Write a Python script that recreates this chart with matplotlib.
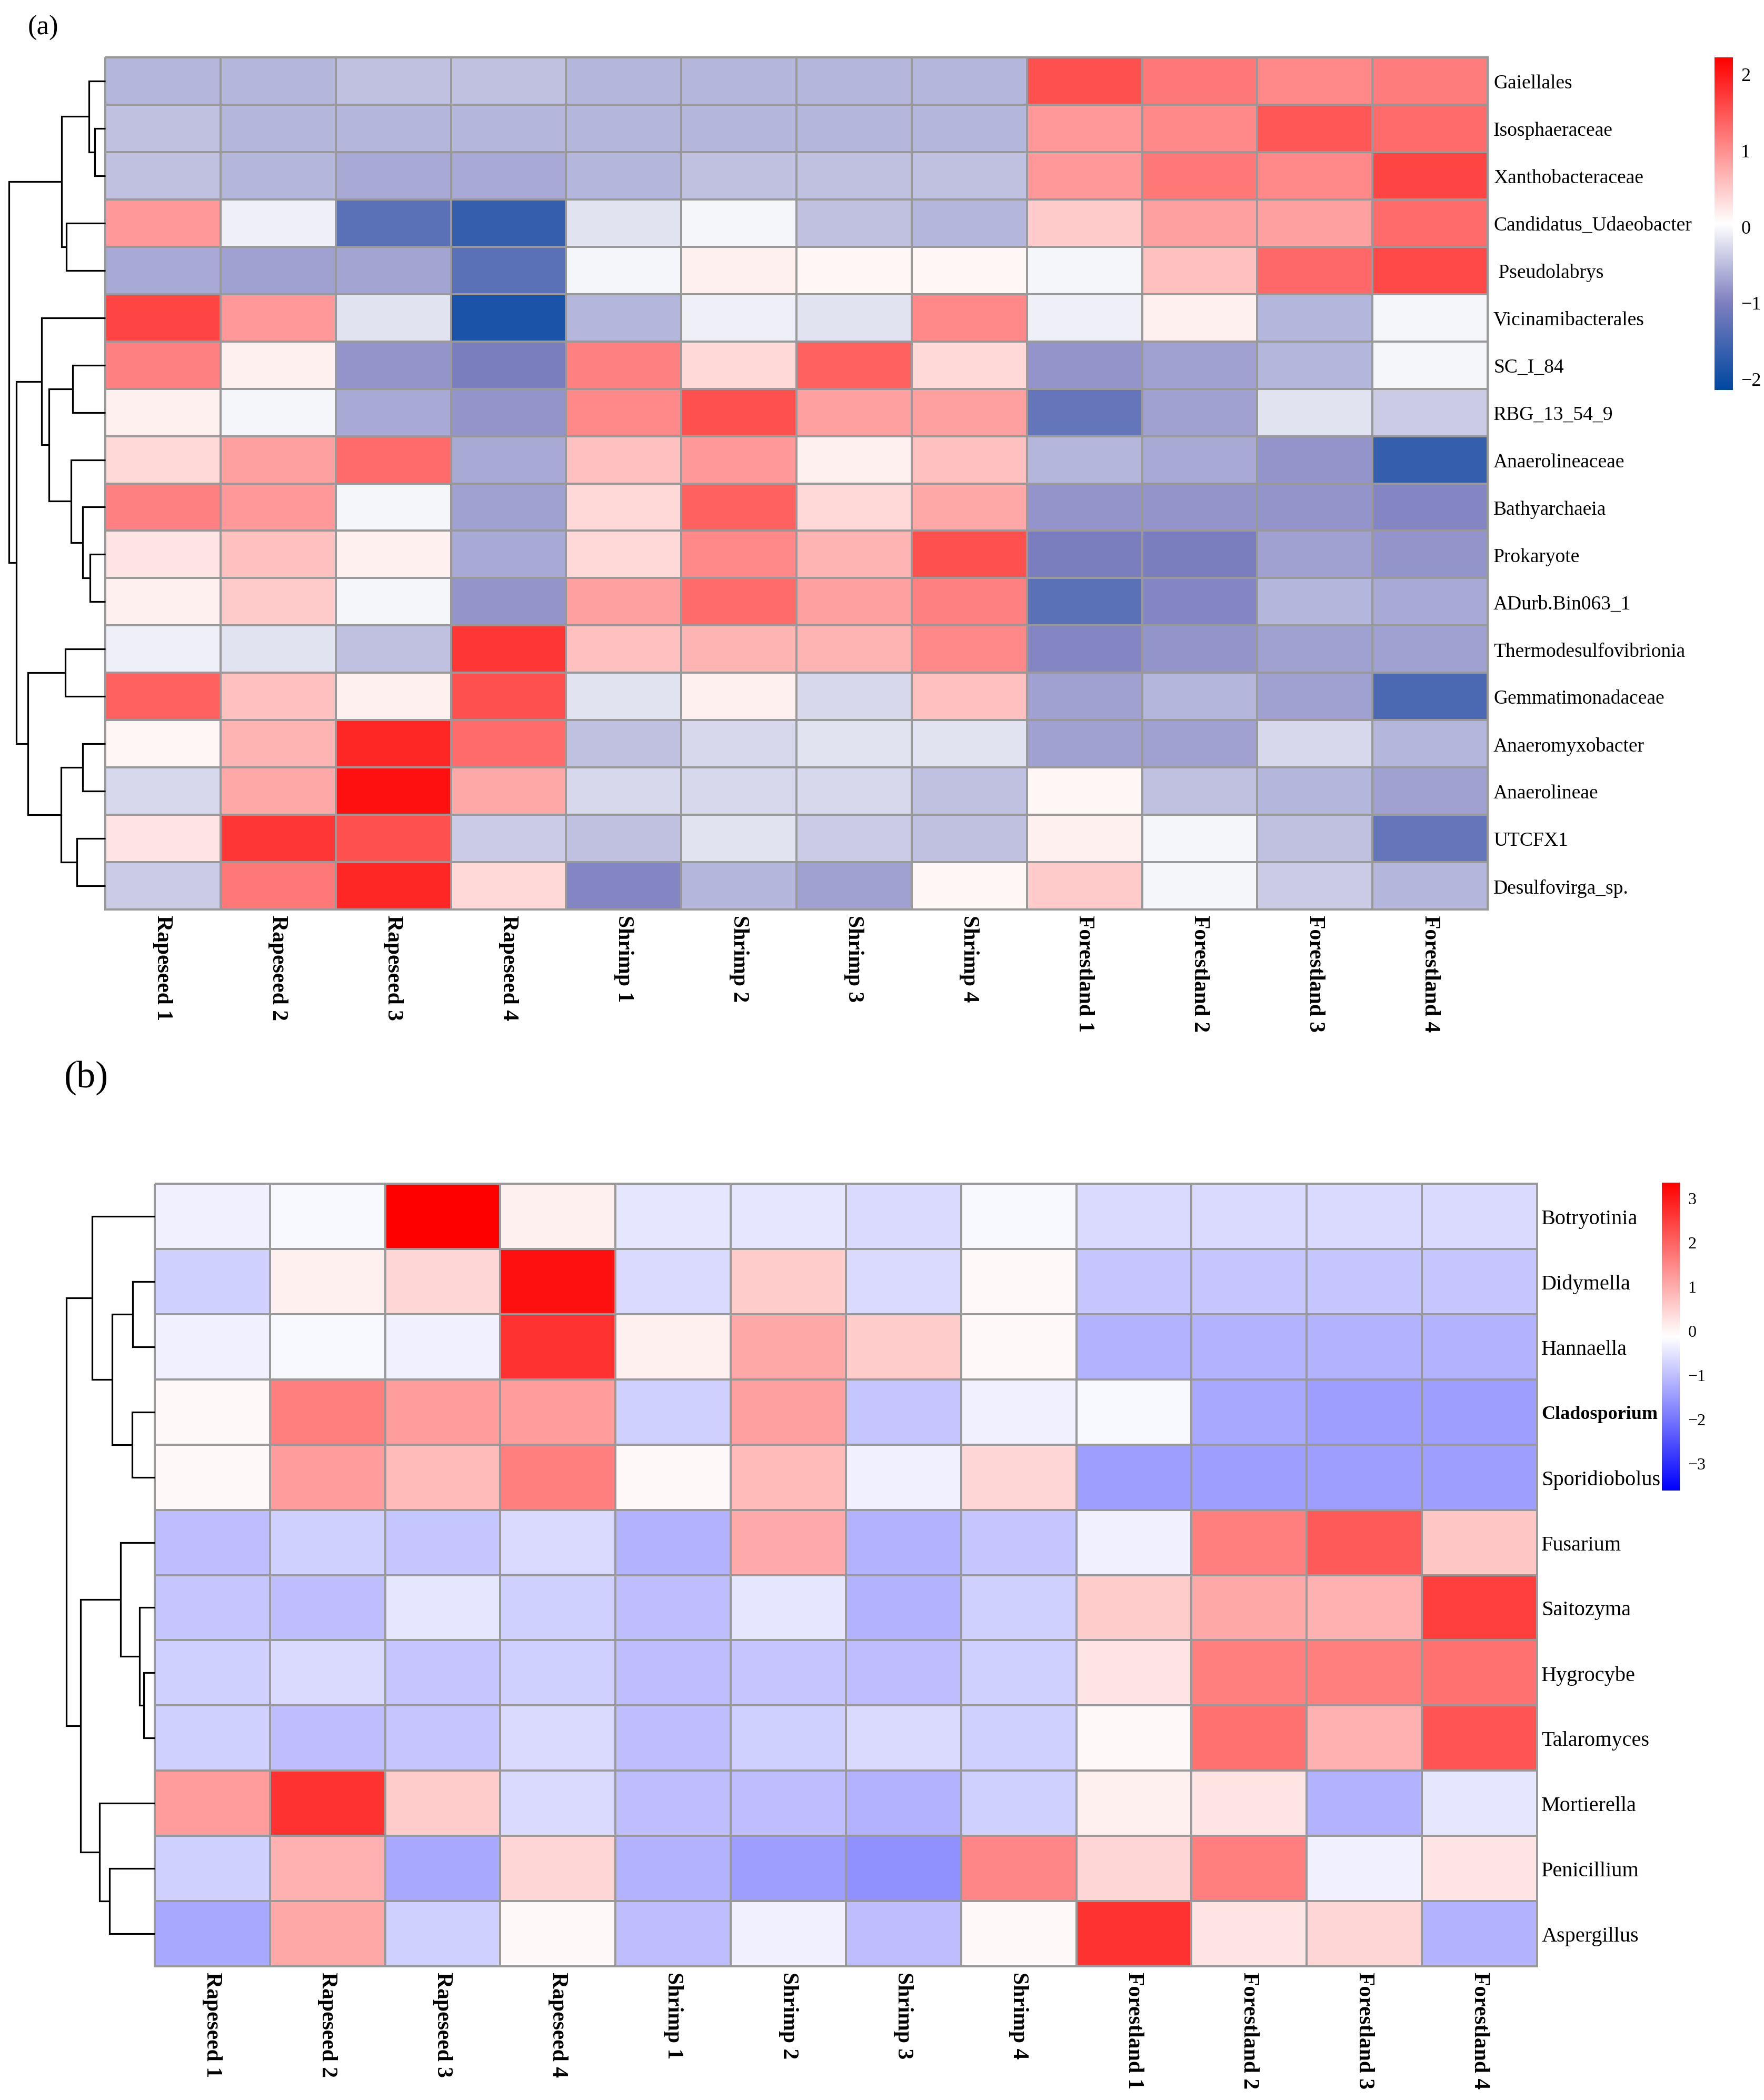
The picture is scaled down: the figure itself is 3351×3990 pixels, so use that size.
import numpy as np
import matplotlib
matplotlib.use("Agg")
import matplotlib.pyplot as plt
from matplotlib.colors import LinearSegmentedColormap, Normalize

plt.rcParams['font.family'] = ['Liberation Serif', 'DejaVu Serif']

# ---------------- data ----------------
sample_labels = ["Rapeseed 1", "Rapeseed 2", "Rapeseed 3", "Rapeseed 4",
                 "Shrimp 1", "Shrimp 2", "Shrimp 3", "Shrimp 4",
                 "Forestland 1", "Forestland 2", "Forestland 3", "Forestland 4"]

bact_rows = ["Gaiellales", "Isosphaeraceae", "Xanthobacteraceae", "Candidatus_Udaeobacter",
             " Pseudolabrys", "Vicinamibacterales", "SC_I_84", "RBG_13_54_9",
             "Anaerolineaceae", "Bathyarchaeia", "Prokaryote", "ADurb.Bin063_1",
             "Thermodesulfovibrionia", "Gemmatimonadaceae", "Anaeromyxobacter",
             "Anaerolineae", "UTCFX1", "Desulfovirga_sp."]

bact_values = [
    [-0.56, -0.56, -0.47, -0.47, -0.56, -0.56, -0.56, -0.56, 1.53, 1.19, 1.05, 1.15],
    [-0.47, -0.56, -0.56, -0.56, -0.56, -0.56, -0.56, -0.56, 0.92, 1.05, 1.47, 1.30],
    [-0.47, -0.56, -0.66, -0.66, -0.56, -0.47, -0.47, -0.47, 0.92, 1.19, 1.05, 1.63],
    [0.92, -0.10, -1.32, -1.66, -0.20, -0.05, -0.47, -0.56, 0.49, 0.85, 0.85, 1.30],
    [-0.66, -0.73, -0.71, -1.32, -0.05, 0.17, 0.12, 0.12, -0.05, 0.58, 1.33, 1.60],
    [1.63, 0.92, -0.20, -1.91, -0.56, -0.10, -0.20, 1.05, -0.10, 0.17, -0.56, -0.05],
    [1.12, 0.17, -0.82, -1.04, 1.12, 0.37, 1.40, 0.37, -0.82, -0.73, -0.56, -0.05],
    [0.17, -0.05, -0.66, -0.82, 1.05, 1.53, 0.85, 0.85, -1.22, -0.73, -0.20, -0.38],
    [0.37, 0.85, 1.30, -0.66, 0.58, 0.92, 0.17, 0.58, -0.56, -0.66, -0.82, -1.66],
    [1.12, 0.92, -0.05, -0.73, 0.37, 1.40, 0.37, 0.78, -0.82, -0.82, -0.82, -0.94],
    [0.26, 0.58, 0.17, -0.66, 0.37, 1.05, 0.68, 1.53, -1.04, -1.04, -0.73, -0.82],
    [0.17, 0.49, -0.05, -0.82, 0.85, 1.30, 0.85, 1.12, -1.32, -0.94, -0.56, -0.66],
    [-0.10, -0.20, -0.47, 1.75, 0.58, 0.68, 0.68, 1.05, -0.94, -0.82, -0.73, -0.73],
    [1.40, 0.58, 0.17, 1.53, -0.20, 0.17, -0.28, 0.58, -0.73, -0.56, -0.73, -1.46],
    [0.12, 0.68, 1.88, 1.30, -0.47, -0.28, -0.20, -0.20, -0.73, -0.73, -0.28, -0.56],
    [-0.28, 0.78, 2.08, 0.78, -0.28, -0.28, -0.28, -0.47, 0.12, -0.47, -0.56, -0.73],
    [0.26, 1.75, 1.53, -0.38, -0.47, -0.20, -0.38, -0.47, 0.17, -0.05, -0.47, -1.22],
    [-0.38, 1.19, 1.88, 0.37, -0.94, -0.56, -0.73, 0.12, 0.49, -0.05, -0.38, -0.56],
]

# row dendrogram (a): (child1, child2, height); leaves 0..17, merged clusters 18..
bact_merges = [(1, 2, 20), (0, 18, 31), (3, 4, 74), (19, 20, 83),
               (10, 11, 29), (9, 22, 43), (8, 23, 65), (6, 7, 62),
               (25, 24, 107), (5, 26, 121), (12, 13, 76), (14, 15, 43),
               (16, 17, 54), (29, 30, 84), (28, 31, 147), (27, 32, 169),
               (21, 33, 183)]

fungi_rows = ["Botryotinia", "Didymella", "Hannaella", "Cladosporium", "Sporidiobolus",
              "Fusarium", "Saitozyma", "Hygrocybe", "Talaromyces", "Mortierella",
              "Penicillium", "Aspergillus"]

fungi_values = [
    [-0.33, -0.22, 3.35, 0.08, -0.48, -0.48, -0.63, -0.22, -0.63, -0.63, -0.63, -0.63],
    [-0.77, 0.08, 0.41, 3.13, -0.63, 0.57, -0.63, -0.03, -0.92, -0.92, -0.92, -0.92],
    [-0.33, -0.22, -0.33, 2.65, 0.08, 1.06, 0.57, -0.03, -1.17, -1.17, -1.17, -1.17],
    [-0.03, 1.61, 1.22, 1.22, -0.77, 1.17, -0.92, -0.33, -0.22, -1.31, -1.45, -1.45],
    [-0.03, 1.22, 0.80, 1.61, -0.03, 0.80, -0.33, 0.41, -1.45, -1.45, -1.45, -1.45],
    [-1.02, -0.77, -0.92, -0.63, -1.17, 1.03, -1.17, -0.92, -0.33, 1.61, 2.10, 0.65],
    [-0.92, -1.02, -0.48, -0.77, -1.02, -0.48, -1.17, -0.77, 0.57, 1.06, 0.95, 2.48],
    [-0.77, -0.63, -0.92, -0.77, -1.02, -0.92, -1.02, -0.77, 0.23, 1.61, 1.61, 1.82],
    [-0.77, -1.02, -0.92, -0.63, -1.02, -0.77, -0.63, -0.77, -0.03, 1.82, 0.95, 2.20],
    [1.22, 2.65, 0.57, -0.63, -1.02, -1.02, -1.17, -0.77, 0.08, 0.23, -1.17, -0.48],
    [-0.77, 0.95, -1.31, 0.41, -1.17, -1.45, -1.64, 1.50, 0.41, 1.61, -0.33, 0.23],
    [-1.31, 1.06, -0.77, -0.03, -1.02, -0.33, -1.02, -0.03, 2.65, 0.23, 0.41, -1.17],
]

fungi_merges = [(1, 2, 42), (3, 4, 43), (12, 13, 81), (0, 14, 119),
                (7, 8, 21), (6, 16, 29), (5, 17, 65), (10, 11, 86),
                (9, 19, 105), (18, 20, 141), (15, 21, 168)]

bact_ticks = [-2, -1, 0, 1, 2]
fungi_ticks = [-3, -2, -1, 0, 1, 2, 3]

# ---------------- styling ----------------
W, H = 3351, 3991
fig = plt.figure(figsize=(W / 100, H / 100), dpi=100)
fig.patch.set_facecolor('white')


def ax_px(x0, y0, x1, y1):
    return fig.add_axes([x0 / W, 1 - y1 / H, (x1 - x0) / W, (y1 - y0) / H])


vmin_a, vmax_a = -2.15, 2.22
def _p(v):
    return (v - vmin_a) / (vmax_a - vmin_a)
cmap_a = LinearSegmentedColormap.from_list(
    "a", [(0.0, "#0047A0"), (_p(-1.0), "#7E80C0"), (0.5, "#FFFFFF"), (1.0, "#FF0000")])
norm_a = Normalize(vmin_a, vmax_a)

cmap_b = LinearSegmentedColormap.from_list("b", ["#0000FF", "#FFFFFF", "#FF0000"])
norm_b = Normalize(-3.62, 3.35)

GRID = "#999999"


def draw_heat(ax, values, rows, cols, cmap, norm, row_fs, col_fs, row_pad, bold_rows=()):
    data = np.array(values)
    n, m = data.shape
    mesh = ax.pcolormesh(np.arange(m + 1), np.arange(n + 1), data, cmap=cmap, norm=norm,
                         edgecolors=GRID, linewidth=2.6)
    mesh.set_clip_on(False)
    ax.set_xlim(0, m)
    ax.set_ylim(n, 0)
    for s in ax.spines.values():
        s.set_visible(False)
    ax.yaxis.tick_right()
    ax.set_yticks(np.arange(n) + 0.5)
    ax.set_yticklabels(rows, fontsize=row_fs)
    for lab in ax.get_yticklabels():
        if lab.get_text() in bold_rows:
            lab.set_fontweight('bold')
            lab.set_fontsize(row_fs - 3)
    ax.set_xticks(np.arange(m) + 0.5)
    ax.set_xticklabels(cols, rotation=-90, fontsize=col_fs, fontweight='bold',
                       ha='center', va='top')
    ax.tick_params(axis='both', length=0)
    ax.tick_params(axis='y', pad=row_pad)
    ax.tick_params(axis='x', pad=7)
    return mesh


def draw_dendro(ax, merges, n, xmax):
    pos = {i: i + 0.5 for i in range(n)}
    hgt = {i: 0.0 for i in range(n)}
    for k, (a, b, h) in enumerate(merges):
        ya, yb = pos[a], pos[b]
        ax.plot([hgt[a], h, h, hgt[b]], [ya, ya, yb, yb], color='black', lw=2.3,
                solid_capstyle='butt', solid_joinstyle='miter', clip_on=False)
        pos[n + k] = (ya + yb) / 2
        hgt[n + k] = h
    ax.set_ylim(n, 0)
    ax.set_xlim(xmax, 0)
    ax.axis('off')


def draw_cbar(cax, mesh, ticks, fs):
    cb = fig.colorbar(mesh, cax=cax, ticks=ticks)
    cb.outline.set_visible(False)
    cax.tick_params(length=0, pad=11, labelsize=fs)
    return cb


# ---------------- panel (a) ----------------
ax_a = ax_px(200, 110, 2826, 1729)
mesh_a = draw_heat(ax_a, bact_values, bact_rows, sample_labels, cmap_a, norm_a,
                   row_fs=27, col_fs=30, row_pad=8)
dax_a = ax_px(10, 110, 200, 1729)
draw_dendro(dax_a, bact_merges, len(bact_rows), 190)
cax_a = ax_px(3257, 110, 3292, 742)
draw_cbar(cax_a, mesh_a, bact_ticks, 26)
fig.text(53 / W, 1 - 53 / H, "(a)", fontsize=38, ha='left', va='center')

# ---------------- panel (b) ----------------
ax_b = ax_px(294, 2250, 2920, 3737)
mesh_b = draw_heat(ax_b, fungi_values, fungi_rows, sample_labels, cmap_b, norm_b,
                   row_fs=29, col_fs=30, row_pad=6, bold_rows=("Cladosporium",))
dax_b = ax_px(100, 2250, 294, 3737)
draw_dendro(dax_b, fungi_merges, len(fungi_rows), 194)
cax_b = ax_px(3157, 2248, 3191, 2833)
draw_cbar(cax_b, mesh_b, fungi_ticks, 23)
fig.text(122 / W, 1 - 2048 / H, "(b)", fontsize=52, ha='left', va='center')

fig.savefig("out.png", dpi=100, facecolor='white')
